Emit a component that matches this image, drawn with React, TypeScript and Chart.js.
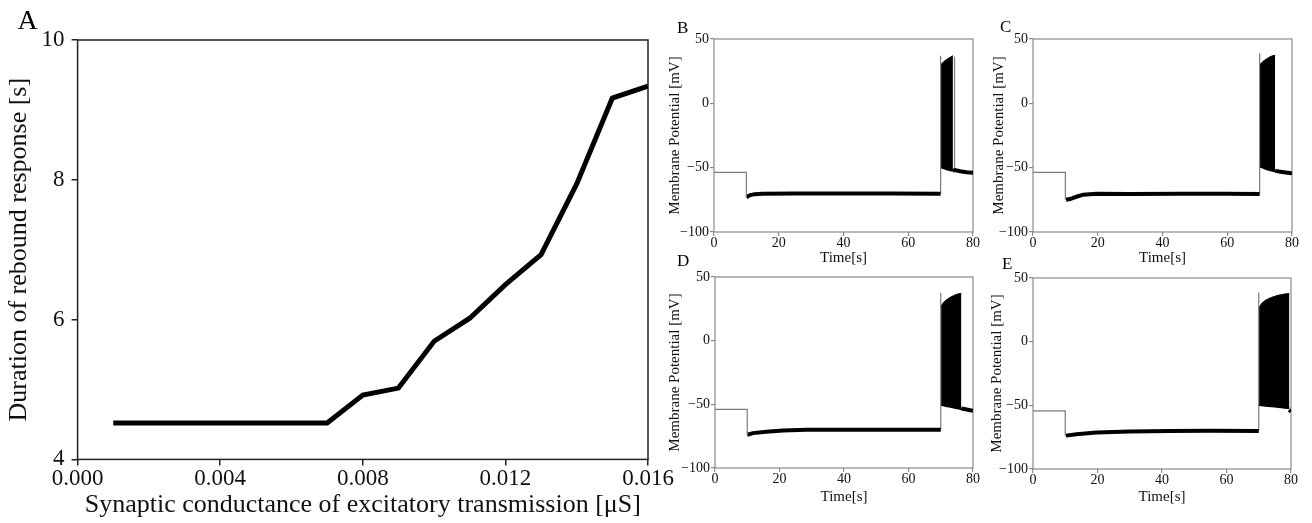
import React, { useEffect, useRef } from "react";
import { Chart, registerables } from "chart.js";

Chart.register(...registerables);

// ---------- Panel A data ----------
const conductance = [0.001, 0.002, 0.003, 0.004, 0.005, 0.006, 0.007, 0.008, 0.009, 0.01, 0.011, 0.012, 0.013, 0.014, 0.015, 0.016];
const reboundDuration = [4.52, 4.52, 4.52, 4.52, 4.52, 4.52, 4.52, 4.92, 5.02, 5.69, 6.02, 6.5, 6.93, 7.94, 9.17, 9.34];
const aXTicks = [0, 0.004, 0.008, 0.012, 0.016];
const aYTicks = [4, 6, 8, 10];

// ---------- Panels B-E shared ----------
const timeTicks = [0, 20, 40, 60, 80];
const potentialTicks = [-100, -50, 0, 50];
const restT = [0, 10, 10];
const spikeT = [70, 70];

// ---------- Panel B ----------
const bRestV = [-53.6, -53.6, -73];
const bHyperT = [10, 11, 12.5, 15, 25, 40, 55, 70];
const bHyperV = [-73, -71.5, -70.6, -70.2, -70.1, -70.1, -70, -70.2];
const bSpikeV = [-70.2, 37];
const bBurstT = [70, 71, 72, 73, 73.8];
const bBurstUpper = [29.9, 32.5, 34.3, 35.9, 37];
const bBurstLower = [-49.7, -50.4, -51.5, -52, -52.5];
const bLateSpikeT = [74.3, 74.3];
const bLateSpikeV = [-52.3, 36.4];
const bAfterT = [73.8, 74.5, 76, 78, 80];
const bAfterV = [-52.5, -51.8, -52.8, -53.5, -54];

// ---------- Panel C ----------
const cRestV = [-53.6, -53.6, -75];
const cHyperT = [10.2, 11.4, 13.4, 15.5, 19.6, 30, 45, 60, 70];
const cHyperV = [-75, -74.4, -72.6, -71, -70.2, -70.4, -70.3, -70.3, -70.5];
const cSpikeV = [-70.5, 39];
const cBurstT = [70, 71, 72, 73, 74, 74.8];
const cBurstUpper = [29.9, 32.5, 34.3, 35.9, 37, 37.2];
const cBurstLower = [-49.1, -50, -51, -51.8, -52.4, -52.8];
const cAfterT = [74.8, 76, 78, 80];
const cAfterV = [-52.5, -53, -53.7, -54.4];

// ---------- Panel D ----------
const dRestV = [-54, -54, -73.9];
const dHyperT = [10, 11.8, 15.9, 21.1, 28.3, 45, 60, 70];
const dHyperV = [-73.9, -72.6, -71.6, -70.5, -70, -70, -70, -70];
const dSpikeV = [-70, 37.7];
const dBurstT = [70, 71, 72, 73, 74, 75, 76, 76.4];
const dBurstUpper = [27, 30.4, 32.5, 34.1, 35.4, 36.4, 37, 37];
const dBurstLower = [-50.4, -51, -51.5, -52, -52.5, -53, -53.5, -53.8];
const dAfterT = [76.4, 78, 80];
const dAfterV = [-53.3, -54, -55];

// ---------- Panel E ----------
const eRestV = [-54.3, -54.3, -73.8];
const eHyperT = [10.2, 13.5, 19.7, 30, 42.4, 55, 70];
const eHyperV = [-73.8, -72.7, -71.4, -70.6, -70.1, -70, -70.1];
const eSpikeV = [-70.1, 38.7];
const eBurstT = [70, 71, 72, 73, 74, 75, 76, 77, 78, 79, 79.5];
const eBurstUpper = [26.4, 30.3, 32.4, 33.7, 34.8, 35.6, 36.4, 36.9, 37.4, 37.7, 37.7];
const eBurstLower = [-49.7, -50, -50.3, -50.5, -50.8, -51, -51.3, -51.6, -51.9, -52.1, -52.3];
const eAfterT = [79.5, 80];
const eAfterV = [-53.5, -55];

const SERIF = '"Liberation Serif", "Times New Roman", serif';

const zip = (xs: number[], ys: number[]) => xs.map((x, i) => ({ x, y: ys[i] }));
const minusFmt = (v: number) => (v < 0 ? "\u2212" + Math.abs(v) : String(v));

type Rect = { l: number; t: number; r: number; b: number };

interface Spec {
  id: string;
  letter: string;
  letterX: number;
  letterBase: number;
  letterSize: number;
  plot: Rect;
  yTitleX: number;
  xTitleY: number;
  padTop: number;
  padRight: number;
  titleSize: number;
  tickSize: number;
  tickLen: number;
  yTickPad: number;
  xTickPad: number;
  tickLineHeight: number;
  frameColor: string;
  frameWidth: number;
  xTitle: string;
  yTitle: string;
  xMin: number;
  xMax: number;
  yMin: number;
  yMax: number;
  xTicks: number[];
  yTicks: number[];
  xFmt: (v: number) => string;
  yFmt: (v: number) => string;
  datasets: any[];
}

const thinGray = { borderColor: "#7a7a7a", borderWidth: 1.2 };
const thick = { borderColor: "#000", borderWidth: 4 };

function traceSets(
  restV: number[],
  hyperT: number[],
  hyperV: number[],
  spikeV: number[],
  burstT: number[],
  upper: number[],
  lower: number[],
  afterT: number[],
  afterV: number[],
  extra?: { t: number[]; v: number[] }
) {
  const sets: any[] = [
    { data: zip(restT, restV), ...thinGray },
    { data: zip(hyperT, hyperV), ...thick },
    { data: zip(spikeT, spikeV), ...thinGray },
    { data: zip(burstT, upper), borderColor: "#000", borderWidth: 1, backgroundColor: "#000", fill: { target: 4 } },
    { data: zip(burstT, lower), borderColor: "#000", borderWidth: 2 },
    { data: zip(afterT, afterV), ...thick },
  ];
  if (extra) sets.push({ data: zip(extra.t, extra.v), ...thinGray });
  return sets;
}

const traceBase = {
  titleSize: 15,
  tickSize: 14,
  tickLen: 4,
  yTickPad: 1,
  xTickPad: 0,
  tickLineHeight: 1.0,
  frameColor: "#8a8a8a",
  frameWidth: 1.2,
  xTitle: "Time[s]",
  yTitle: "Membrane Potential [mV]",
  xMin: 0,
  xMax: 80,
  yMin: -100,
  yMax: 50,
  xTicks: timeTicks,
  yTicks: potentialTicks,
  xFmt: (v: number) => String(v),
  yFmt: minusFmt,
  padTop: 24,
  padRight: 12,
  letterSize: 17,
};

const specs: Spec[] = [
  {
    id: "A",
    letter: "A",
    letterX: 18,
    letterBase: 29,
    letterSize: 28,
    plot: { l: 78, t: 40, r: 648, b: 459 },
    yTitleX: 20,
    xTitleY: 505,
    padTop: 40,
    padRight: 35,
    titleSize: 26,
    tickSize: 23,
    tickLen: 6,
    yTickPad: 7,
    xTickPad: 0,
    tickLineHeight: 1.2,
    frameColor: "#222",
    frameWidth: 1.5,
    xTitle: "Synaptic conductance of excitatory transmission [\u03bcS]",
    yTitle: "Duration of rebound response [s]",
    xMin: 0,
    xMax: 0.016,
    yMin: 4,
    yMax: 10,
    xTicks: aXTicks,
    yTicks: aYTicks,
    xFmt: (v: number) => v.toFixed(3),
    yFmt: (v: number) => String(v),
    datasets: [
      {
        data: zip(conductance, reboundDuration),
        borderColor: "#000",
        borderWidth: 5,
        borderJoinStyle: "miter",
      },
    ],
  },
  {
    ...traceBase,
    id: "B",
    letter: "B",
    letterX: 677,
    letterBase: 33,
    plot: { l: 714, t: 39, r: 973, b: 232 },
    yTitleX: 675,
    xTitleY: 258,
    datasets: traceSets(bRestV, bHyperT, bHyperV, bSpikeV, bBurstT, bBurstUpper, bBurstLower, bAfterT, bAfterV, { t: bLateSpikeT, v: bLateSpikeV }),
  },
  {
    ...traceBase,
    id: "C",
    letter: "C",
    letterX: 1000,
    letterBase: 32,
    plot: { l: 1033, t: 39, r: 1292, b: 232 },
    yTitleX: 999,
    xTitleY: 258,
    datasets: traceSets(cRestV, cHyperT, cHyperV, cSpikeV, cBurstT, cBurstUpper, cBurstLower, cAfterT, cAfterV),
  },
  {
    ...traceBase,
    id: "D",
    letter: "D",
    letterX: 677,
    letterBase: 266,
    plot: { l: 715, t: 277, r: 973, b: 468 },
    yTitleX: 675,
    xTitleY: 497,
    datasets: traceSets(dRestV, dHyperT, dHyperV, dSpikeV, dBurstT, dBurstUpper, dBurstLower, dAfterT, dAfterV),
  },
  {
    ...traceBase,
    id: "E",
    letter: "E",
    letterX: 1002,
    letterBase: 269,
    plot: { l: 1033, t: 278, r: 1291, b: 469 },
    yTitleX: 997,
    xTitleY: 497,
    datasets: traceSets(eRestV, eHyperT, eHyperV, eSpikeV, eBurstT, eBurstUpper, eBurstLower, eAfterT, eAfterV),
  },
];

function geometry(s: Spec) {
  const left = s.yTitleX - 0.6 * s.titleSize;
  const top = s.plot.t - s.padTop;
  const right = s.plot.r + s.padRight;
  const bottom = s.xTitleY + 0.6 * s.titleSize;
  return {
    left,
    top,
    width: Math.round(right - left),
    height: Math.round(bottom - top),
    yAxisW: s.plot.l - left,
    xAxisH: bottom - s.plot.b,
  };
}

function Panel({ spec }: { spec: Spec }) {
  const ref = useRef<HTMLCanvasElement | null>(null);
  const g = geometry(spec);

  useEffect(() => {
    if (!ref.current) return;
    const framePlugin = {
      id: "frame" + spec.id,
      beforeDatasetsDraw(chart: any) {
        const { ctx, chartArea } = chart;
        ctx.save();
        ctx.strokeStyle = spec.frameColor;
        ctx.lineWidth = spec.frameWidth;
        ctx.strokeRect(chartArea.left, chartArea.top, chartArea.right - chartArea.left, chartArea.bottom - chartArea.top);
        ctx.restore();
      },
      afterDraw(chart: any) {
        const { ctx } = chart;
        ctx.save();
        ctx.fillStyle = "#000";
        ctx.font = `${spec.letterSize}px ${SERIF}`;
        ctx.textBaseline = "alphabetic";
        ctx.textAlign = "left";
        ctx.fillText(spec.letter, spec.letterX - g.left, spec.letterBase - g.top);
        ctx.restore();
      },
    };
    const tickFont = { family: SERIF, size: spec.tickSize, lineHeight: spec.tickLineHeight };
    const titleFont = { family: SERIF, size: spec.titleSize, lineHeight: 1.2 };
    const grid = {
      display: true,
      drawOnChartArea: false,
      drawTicks: true,
      tickLength: spec.tickLen,
      color: spec.frameColor,
      lineWidth: spec.frameWidth,
    };
    const chart = new Chart(ref.current, {
      type: "line",
      data: {
        datasets: spec.datasets.map((d) => ({
          pointRadius: 0,
          pointHoverRadius: 0,
          tension: 0,
          fill: false,
          ...d,
        })),
      },
      options: {
        animation: false,
        responsive: false,
        devicePixelRatio: 1,
        events: [],
        layout: { padding: { top: spec.padTop, right: spec.padRight, left: 0, bottom: 0 } },
        plugins: { legend: { display: false }, tooltip: { enabled: false }, title: { display: false } },
        scales: {
          x: {
            type: "linear",
            min: spec.xMin,
            max: spec.xMax,
            afterBuildTicks: (s: any) => {
              s.ticks = spec.xTicks.map((v) => ({ value: v }));
            },
            afterFit: (s: any) => {
              s.height = g.xAxisH;
            },
            ticks: {
              callback: (v: any) => spec.xFmt(Number(v)),
              font: tickFont,
              color: "#111",
              padding: spec.xTickPad,
              maxRotation: 0,
              autoSkip: false,
            },
            grid,
            border: { display: false },
            title: { display: true, text: spec.xTitle, font: titleFont, color: "#111", padding: 0 },
          },
          y: {
            type: "linear",
            min: spec.yMin,
            max: spec.yMax,
            afterBuildTicks: (s: any) => {
              s.ticks = spec.yTicks.map((v) => ({ value: v }));
            },
            afterFit: (s: any) => {
              s.width = g.yAxisW;
            },
            ticks: {
              callback: (v: any) => spec.yFmt(Number(v)),
              font: tickFont,
              color: "#111",
              padding: spec.yTickPad,
              autoSkip: false,
            },
            grid,
            border: { display: false },
            title: { display: true, text: spec.yTitle, font: titleFont, color: "#111", padding: 0 },
          },
        },
      } as any,
      plugins: [framePlugin],
    });
    return () => chart.destroy();
  }, []);

  return (
    <canvas
      ref={ref}
      width={g.width}
      height={g.height}
      style={{ position: "absolute", left: g.left, top: g.top, width: g.width, height: g.height }}
    />
  );
}

export default function App() {
  return (
    <div style={{ position: "fixed", left: 0, top: 0, width: 1312, height: 523, background: "#fff", overflow: "hidden" }}>
      {specs.map((s) => (
        <Panel key={s.id} spec={s} />
      ))}
    </div>
  );
}
